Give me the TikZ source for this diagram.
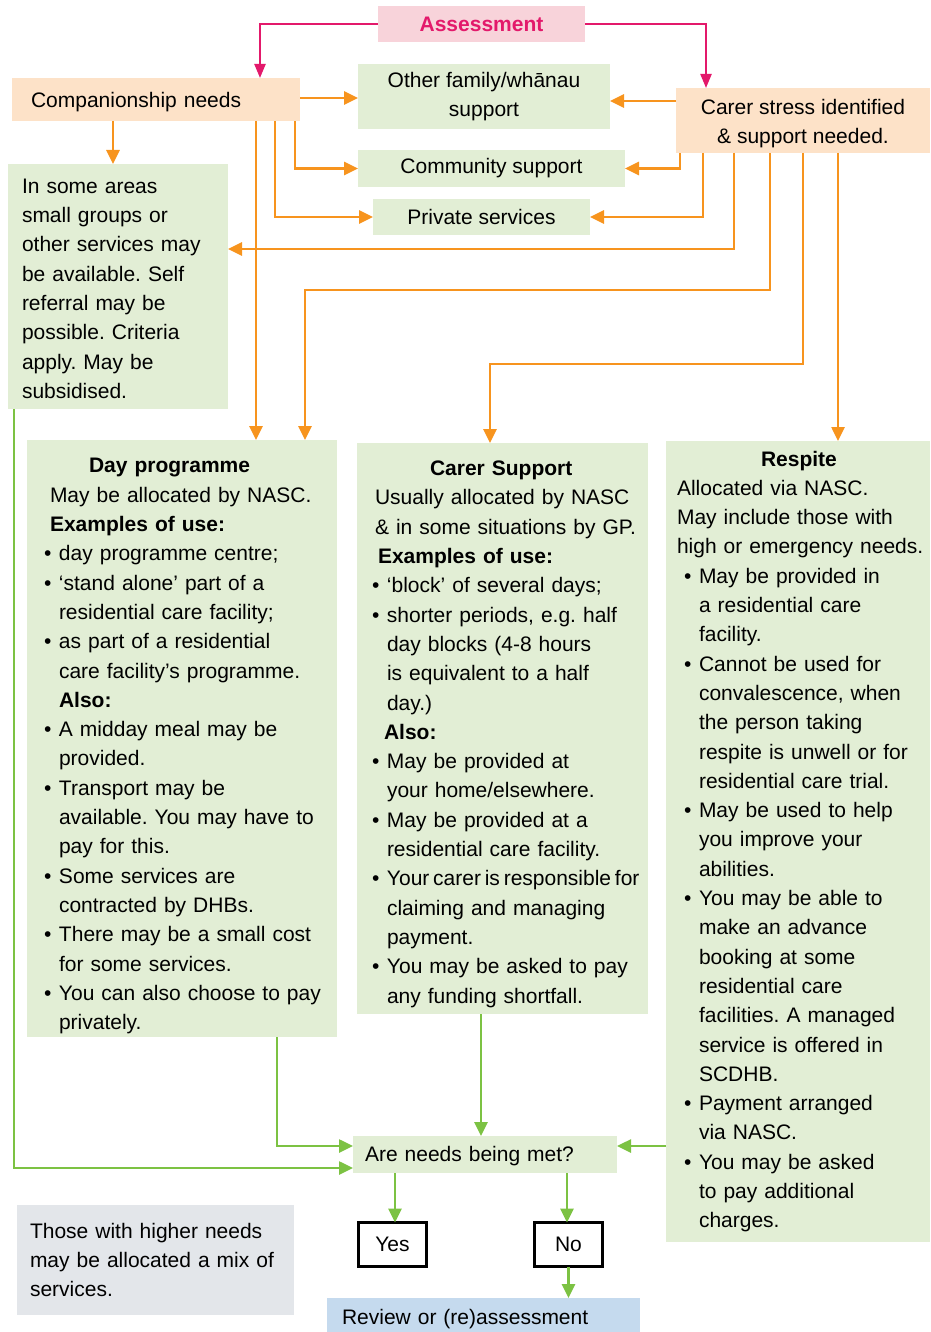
\documentclass[tikz,border=0pt]{standalone}
\usepackage{fontspec}
\setmainfont{Liberation Sans}
\usetikzlibrary{arrows.meta}

\definecolor{assesspink}{HTML}{F8D3DA}
\definecolor{assessred}{HTML}{E3196B}
\definecolor{needpeach}{HTML}{FDE2C8}
\definecolor{servgreen}{HTML}{E2EED5}
\definecolor{linkorange}{HTML}{F7941E}
\definecolor{linkgreen}{HTML}{7CC243}
\definecolor{notegray}{HTML}{E3E6EA}
\definecolor{reviewblue}{HTML}{C5DAEE}

\newcommand{\bul}{\makebox[15pt][l]{\textbullet}}
\newcommand{\ind}{\hspace*{15pt}}
\newcommand{\toppad}[1]{\rule{0pt}{#1}}

\begin{document}
\frenchspacing
\lefthyphenmin=62
\begin{tikzpicture}[x=1pt, y=-1pt,
  every node/.style={font=\fontsize{21}{29.3}\selectfont, inner sep=0pt, outer sep=0pt},
  peachbox/.style={fill=needpeach},
  greenbox/.style={fill=servgreen},
  answer/.style={draw=black, line width=2.5pt, fill=white, minimum width=68pt, minimum height=44pt},
  pinkarrow/.style={assessred, line width=2.2pt, -{Triangle[length=14pt,width=11pt]}},
  orangearrow/.style={linkorange, line width=2.6pt, -{Triangle[length=14pt,width=13pt]}},
  greenarrow/.style={linkgreen, line width=2.6pt, -{Triangle[length=14pt,width=13pt]}}]
  \useasboundingbox (0,0) rectangle (930,1332);

  % Draw top boxes
  \node[fill=assesspink, text=assessred, font=\fontsize{21}{29.3}\selectfont\bfseries,
    minimum width=207pt, minimum height=36pt] (assess) at (481.5,24) {Assessment};
  \node[peachbox, anchor=north west, inner xsep=19pt, text width=250pt, align=left,
    minimum height=43pt] (comp) at (12,78) {\toppad{20pt}Companionship needs};
  \node[greenbox, minimum width=252pt, minimum height=65pt, align=center]
    (family) at (484,96.5) {Other family/whānau\\support};
  \node[peachbox, minimum width=254pt, minimum height=65pt, align=center]
    (stress) at (803,120.5) {\toppad{22pt}Carer stress identified\\\& support needed.};
  \node[greenbox, minimum width=267pt, minimum height=37pt] (community) at (491.5,168.5) {Community support};
  \node[greenbox, minimum width=217pt, minimum height=36pt] (private) at (481.5,217) {Private services};
  \node[greenbox, anchor=north west, inner xsep=14pt, text width=192pt, align=left,
    minimum height=245pt] (areas) at (8,164) {\toppad{19pt}In some areas\\small groups or\\other services may\\be available. Self\\referral may be\\possible. Criteria\\apply. May be\\subsidised.};

  % Draw service boxes
  \node[greenbox, anchor=north west, inner xsep=17pt, text width=276pt, align=left,
    minimum height=597pt] (day) at (27,440) {%
    \toppad{30pt}\hspace*{45pt}\textbf{Day programme}\\
    \hspace*{6pt}May be allocated by NASC.\\
    \hspace*{6pt}\textbf{Examples of use:}\\
    \bul day programme centre;\\
    \bul ‘stand alone’ part of a\\
    \ind residential care facility;\\
    \bul as part of a residential\\
    \ind care facility’s programme.\\
    \ind\textbf{Also:}\\
    \bul A midday meal may be\\
    \ind provided.\\
    \bul Transport may be\\
    \ind available. You may have to\\
    \ind pay for this.\\
    \bul Some services are\\
    \ind contracted by DHBs.\\
    \bul There may be a small cost\\
    \ind for some services.\\
    \bul You~can~also~choose~to~pay\\
    \ind privately.};
  \node[greenbox, anchor=north west, inner xsep=15pt, text width=261pt, align=left,
    minimum height=571pt] (carer) at (357,443) {%
    \toppad{26pt}\hspace*{58pt}\textbf{Carer Support}\\
    \hspace*{3pt}Usually allocated by NASC\\
    \hspace*{3pt}\&~in~some~situations~by~GP.\\
    \hspace*{6pt}\textbf{Examples of use:}\\
    \bul ‘block’ of several days;\\
    \bul shorter periods, e.g. half\\
    \ind day blocks (4-8 hours\\
    \ind is equivalent to a half\\
    \ind day.)\\
    \hspace*{12pt}\textbf{Also:}\\
    \bul May be provided at\\
    \ind your home/elsewhere.\\
    \bul May be provided at a\\
    \ind residential care facility.\\
    \bul {\spaceskip=0.18em Your~carer~is~responsible~for}\\
    \ind claiming and managing\\
    \ind payment.\\
    \bul You may be asked to pay\\
    \ind any funding shortfall.};
  \node[greenbox, anchor=north west, inner xsep=11pt, text width=242pt, align=left,
    minimum height=801pt] (respite) at (666,441) {%
    \hspace*{84pt}\textbf{Respite}\\
    Allocated via NASC.\\
    May include those with\\
    high~or~emergency~needs.\\
    \hspace*{7pt}\bul May be provided in\\
    \hspace*{7pt}\ind a residential care\\
    \hspace*{7pt}\ind facility.\\
    \hspace*{7pt}\bul Cannot be used for\\
    \hspace*{7pt}\ind convalescence, when\\
    \hspace*{7pt}\ind the person taking\\
    \hspace*{7pt}\ind respite is unwell or for\\
    \hspace*{7pt}\ind residential care trial.\\
    \hspace*{7pt}\bul May be used to help\\
    \hspace*{7pt}\ind you improve your\\
    \hspace*{7pt}\ind abilities.\\
    \hspace*{7pt}\bul You may be able to\\
    \hspace*{7pt}\ind make an advance\\
    \hspace*{7pt}\ind booking at some\\
    \hspace*{7pt}\ind residential care\\
    \hspace*{7pt}\ind facilities. A managed\\
    \hspace*{7pt}\ind service is offered in\\
    \hspace*{7pt}\ind SCDHB.\\
    \hspace*{7pt}\bul Payment arranged\\
    \hspace*{7pt}\ind via NASC.\\
    \hspace*{7pt}\bul You may be asked\\
    \hspace*{7pt}\ind to pay additional\\
    \hspace*{7pt}\ind charges.};

  % Draw bottom boxes
  \node[greenbox, anchor=north west, inner xsep=12pt, text width=240pt, align=left,
    minimum height=37pt] (met) at (353,1136) {\toppad{18pt}Are needs being met?};
  \node[answer] (yes) at (392.5,1244.5) {Yes};
  \node[answer] (no) at (568.5,1244.5) {No};
  \node[fill=reviewblue, anchor=north west, inner xsep=15pt, text width=283pt, align=left,
    minimum height=38pt] (review) at (327,1298) {\toppad{19pt}Review or (re)assessment};
  \node[fill=notegray, anchor=north west, inner xsep=13pt, text width=251pt, align=left,
    minimum height=110pt] (higher) at (17,1205) {Those with higher needs\\may be allocated a mix of\\services.};

  % Assessment arrows
  \draw[pinkarrow] (assess.west) -| (260,0 |- comp.north);
  \draw[pinkarrow] (assess.east) -| (706,0 |- stress.north);

  % Companionship needs arrows
  \draw[orangearrow] (comp.east |- 0,98) -- (family.west |- 0,98);
  \draw[orangearrow] (113,0 |- comp.south) -- (113,0 |- areas.north);
  \draw[orangearrow] (295,0 |- comp.south) |- (community.west);
  \draw[orangearrow] (275,0 |- comp.south) |- (private.west);
  \draw[orangearrow] (256,0 |- comp.south) -- (256,0 |- day.north);

  % Carer stress arrows
  \draw[orangearrow] (stress.west |- 0,101) -- (family.east |- 0,101);
  \draw[orangearrow] (680,0 |- stress.south) |- (community.east);
  \draw[orangearrow] (703,0 |- stress.south) |- (private.east);
  \draw[orangearrow] (734,0 |- stress.south) |- (areas.east |- 0,249);
  \draw[orangearrow] (770,0 |- stress.south) |- (305,290) -- (305,0 |- day.north);
  \draw[orangearrow] (803,0 |- stress.south) |- (490,364) -- (490,0 |- carer.north);
  \draw[orangearrow] (838,0 |- stress.south) -- (838,0 |- respite.north);

  % Needs met arrows
  \draw[greenarrow] (14,0 |- areas.south) |- (met.west |- 0,1168);
  \draw[greenarrow] (277,0 |- day.south) |- (met.west |- 0,1146);
  \draw[greenarrow] (481,0 |- carer.south) -- (481,0 |- met.north);
  \draw[greenarrow] (respite.west |- 0,1146) -- (met.east |- 0,1146);
  \draw[greenarrow] (395,0 |- met.south) -- (395,0 |- yes.north);
  \draw[greenarrow] (567,0 |- met.south) -- (567,0 |- no.north);
  \draw[greenarrow] (no.south) -- (no.south |- review.north);
\end{tikzpicture}
\end{document}
